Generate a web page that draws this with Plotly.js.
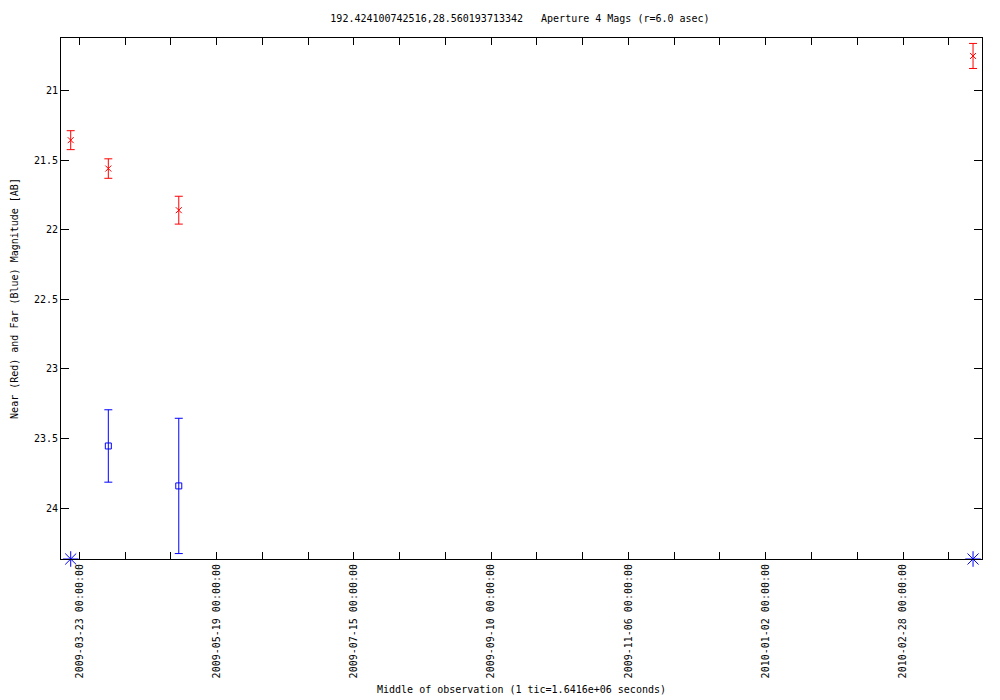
<!DOCTYPE html>
<html>
<head>
<meta charset="utf-8">
<script src="https://cdn.plot.ly/plotly-3.0.1.min.js"></script>
<style>html,body{margin:0;padding:0;background:#fff;}#chart{width:1000px;height:700px;}</style>
</head>
<body>
<div id="chart"></div>
<script>
// Near (red) measurements
var nearDates = ['2009-03-19 10:15', '2009-04-04 01:00', '2009-05-03 07:00', '2010-03-29 01:40'];
var nearMags = [21.357, 21.561, 21.86, 20.752];
var nearErrs = [0.068, 0.07, 0.1, 0.09];

// Far (blue) measurements
var farDates = ['2009-04-04 01:00', '2009-05-03 07:00'];
var farMags = [23.554, 23.841];
var farErrs = [0.26, 0.486];

// Far (blue) limits drawn on the bottom edge
var limitDates = ['2009-03-19 10:15', '2010-03-29 01:40'];
var limitMags = [24.366, 24.366];

var xRange = ['2009-03-15 09:30', '2010-04-01 19:00'];
var yRange = [24.366, 20.623];
var titleText = '192.424100742516,28.560193713342   Aperture 4 Mags (r=6.0 asec)';
var xTitle = 'Middle of observation (1 tic=1.6416e+06 seconds)';
var yTitle = 'Near (Red) and Far (Blue) Magnitude [AB]';

var DAY = 86400000;
var font = {family: 'DejaVu Sans Mono, monospace', size: 10, color: '#000'};

var traces = [
  {
    x: nearDates, y: nearMags, type: 'scatter', mode: 'markers',
    marker: {symbol: 'x-thin-open', size: 6, color: '#ff0000', line: {color: '#ff0000', width: 1}},
    error_y: {type: 'data', array: nearErrs, visible: true, color: '#ff0000', thickness: 1, width: 4},
    cliponaxis: false, hoverinfo: 'x+y'
  },
  {
    x: farDates, y: farMags, type: 'scatter', mode: 'markers',
    marker: {symbol: 'square-open', size: 6, color: '#0000ff', line: {color: '#0000ff', width: 1}},
    error_y: {type: 'data', array: farErrs, visible: true, color: '#0000ff', thickness: 1, width: 4},
    cliponaxis: false, hoverinfo: 'x+y'
  },
  {
    x: limitDates, y: limitMags, type: 'scatter', mode: 'markers',
    marker: {symbol: 'asterisk-open', size: 13, color: '#0000ff', line: {color: '#0000ff', width: 1}},
    cliponaxis: false, hoverinfo: 'x+y'
  }
];

var layout = {
  width: 1000, height: 700,
  paper_bgcolor: '#fff', plot_bgcolor: '#fff',
  showlegend: false,
  font: font,
  margin: {l: 61, r: 18, t: 38, b: 141, pad: 0},
  title: {text: titleText, font: font, x: 0.52, xanchor: 'center', y: 1 - 18/700, yanchor: 'middle', yref: 'container'},
  xaxis: {
    type: 'date', range: xRange, autorange: false,
    showgrid: false, zeroline: false,
    showline: true, linecolor: '#000', linewidth: 1, mirror: 'ticks',
    ticks: 'inside', ticklen: 7, tickcolor: '#000', tickwidth: 1,
    tick0: '2009-03-23', dtick: 57 * DAY,
    tickformat: '%Y-%m-%d %H:%M:%S', tickangle: -90,
    tickfont: font,
    minor: {tick0: '2009-03-23', dtick: 19 * DAY, ticks: 'inside', ticklen: 7, tickcolor: '#000', tickwidth: 1, showgrid: false},
    title: {text: xTitle, font: font, standoff: 8}
  },
  yaxis: {
    range: yRange, autorange: false,
    showgrid: false, zeroline: false,
    showline: true, linecolor: '#000', linewidth: 1, mirror: 'ticks',
    ticks: 'inside', ticklen: 8, tickcolor: '#000', tickwidth: 1,
    tickvals: [21, 21.5, 22, 22.5, 23, 23.5, 24],
    ticktext: ['21', '21.5', '22', '22.5', '23', '23.5', '24'],
    tickfont: font,
    title: {text: yTitle, font: font, standoff: 13}
  }
};

Plotly.newPlot('chart', traces, layout, {displayModeBar: false, staticPlot: true});
</script>
</body>
</html>
